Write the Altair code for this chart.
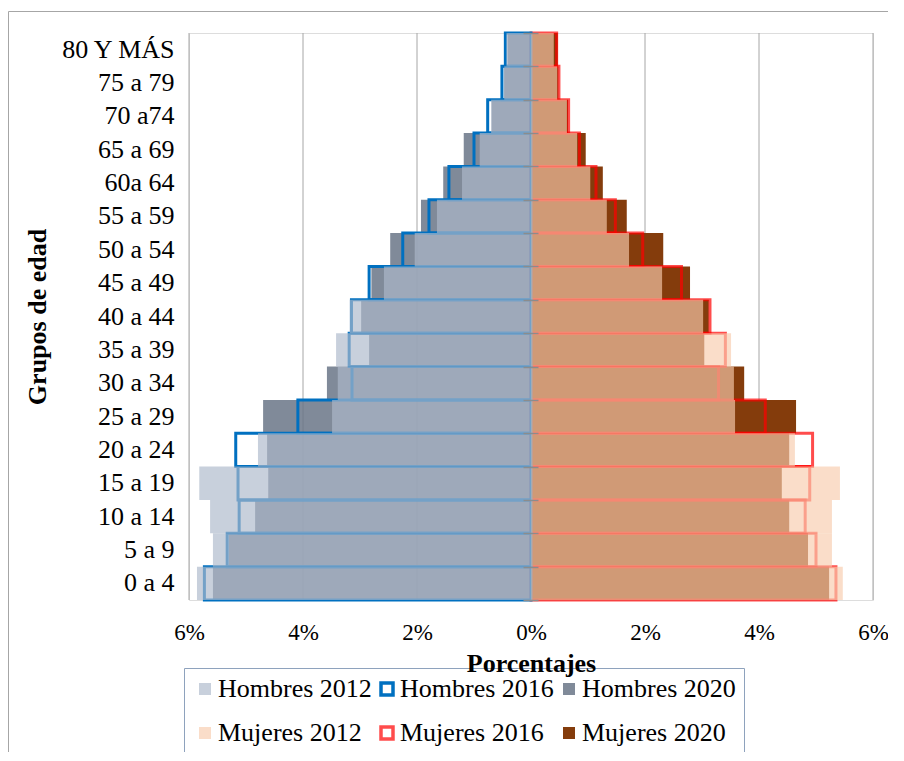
import altair as alt
import pandas as pd

# ---------------- data (percent of population) ----------------
GRUPOS = ["0 a 4", "5 a 9", "10 a 14", "15 a 19", "20 a 24", "25 a 29", "30 a 34",
          "35 a 39", "40 a 44", "45 a 49", "50 a 54", "55 a 59", "60a 64",
          "65 a 69", "70 a74", "75 a 79", "80 Y MÁS"]

HOMBRES_2012 = [5.86, 5.58, 5.63, 5.82, 4.79, 3.49, 3.39, 3.42, 3.18, 2.58, 2.04, 1.65, 1.21, 0.90, 0.70, 0.47, 0.43]
HOMBRES_2016 = [5.73, 5.33, 5.12, 5.14, 5.18, 4.09, 3.14, 3.19, 3.15, 2.84, 2.25, 1.79, 1.44, 1.00, 0.76, 0.51, 0.45]
HOMBRES_2020 = [5.58, 5.30, 4.84, 4.61, 4.63, 4.70, 3.58, 2.84, 2.98, 2.80, 2.47, 1.93, 1.54, 1.18, 0.69, 0.47, 0.41]
MUJERES_2012 = [5.47, 5.28, 5.28, 5.42, 4.63, 3.58, 3.56, 3.51, 3.02, 2.30, 1.72, 1.33, 1.04, 0.81, 0.63, 0.46, 0.40]
MUJERES_2016 = [5.35, 5.00, 4.81, 4.89, 4.94, 4.11, 3.29, 3.41, 3.14, 2.64, 1.96, 1.48, 1.14, 0.85, 0.66, 0.49, 0.45]
MUJERES_2020 = [5.23, 4.86, 4.53, 4.40, 4.53, 4.65, 3.74, 3.04, 3.12, 2.79, 2.32, 1.68, 1.26, 0.96, 0.65, 0.48, 0.47]

SERIES = ["Hombres 2012", "Hombres 2016", "Hombres 2020",
          "Mujeres 2012", "Mujeres 2016", "Mujeres 2020"]
X_TICKS = [-6, -4, -2, 0, 2, 4, 6]
GRID_X = [-6, -4, -2, 2, 4, 6]

# ---------------- styles ----------------
FILL_RANGE = ["rgba(173,185,203,0.67)", "white", "rgba(106,117,135,0.85)",
              "rgba(248,203,173,0.66)", "white", "#843c0c"]
STROKE_RANGE = ["transparent", "#0070c0", "transparent",
                "transparent", "rgba(255,0,0,0.7)", "transparent"]
FONT = "Liberation Serif"
W, H = 684, 567

rows = []
for year, men, women in [(2012, HOMBRES_2012, MUJERES_2012),
                         (2016, HOMBRES_2016, MUJERES_2016),
                         (2020, HOMBRES_2020, MUJERES_2020)]:
    for g, v in zip(GRUPOS, women):
        rows.append({"grupo": g, "valor": v, "anio": year, "serie": f"Mujeres {year}"})
    for g, v in zip(GRUPOS, men):
        rows.append({"grupo": g, "valor": -v, "anio": year, "serie": f"Hombres {year}"})
df = pd.DataFrame(rows)

xscale = alt.Scale(domain=[-6, 6], nice=False, zero=False)
yscale = alt.Scale(paddingInner=0, paddingOuter=0)
ysort = list(reversed(GRUPOS))
fill_scale = alt.Scale(domain=SERIES, range=FILL_RANGE)
stroke_scale = alt.Scale(domain=SERIES, range=STROKE_RANGE)

LEG = dict(title=None, orient="none", legendX=-5, legendY=635, direction="horizontal",
           columns=3, labelFont=FONT, labelFontSize=26, labelColor="black", labelLimit=400,
           labelOffset=0, symbolType="square", symbolSize=144, symbolStrokeWidth=3.5,
           padding=8, rowPadding=18, columnPadding=2, fillColor="white",
           strokeColor="#8ea2bd", zindex=0)

x_axis = alt.Axis(values=X_TICKS, labelExpr="abs(datum.value) + '%'", grid=False,
                  domain=False, ticks=False, tickSize=0, labelPadding=39,
                  labelBaseline="alphabetic", labelFont=FONT, labelFontSize=23,
                  labelColor="black", labelFlush=False, labelOverlap=False,
                  title="Porcentajes", titleFont=FONT, titleFontSize=26,
                  titleFontWeight="bold", titleColor="black", titleX=W / 2, titleY=71,
                  titleBaseline="alphabetic", titleAlign="center", zindex=1)

y_axis = alt.Axis(orient="left", domain=False, ticks=False, tickSize=0, grid=False,
                  labelPadding=15, labelFont=FONT, labelFontSize=26, labelColor="black",
                  labelLimit=400, title="Grupos de edad", titleFont=FONT, titleFontSize=26,
                  titleFontWeight="bold", titleColor="black", titleAngle=270,
                  titleX=-144, titleY=H / 2, titleBaseline="alphabetic", titleAlign="center")

tick_axis = alt.Axis(orient="right", offset=-(W / 2) - 8, labels=False, domain=False,
                     grid=False, ticks=True, tickBand="extent", tickSize=15,
                     tickColor="#8c8c8c", tickWidth=1.5, title=None, zindex=1)

# chart-area frame (decoration)
frame = alt.Chart(alt.Data(values=[{"k": 1}])).mark_rect(
    filled=False, stroke="#a6a6a6", strokeWidth=1
).encode(x=alt.value(-180.5), x2=alt.value(W + 200), y=alt.value(-21.5), y2=alt.value(H + 300))

grid = alt.Chart(pd.DataFrame({"valor": GRID_X})).mark_rule(color="#a6a6a6", strokeWidth=1).encode(
    x=alt.X("valor:Q", scale=xscale, axis=x_axis)
)

base = alt.Chart(df)

bars2020 = base.transform_filter("datum.anio == 2020").mark_bar(strokeWidth=3.5).encode(
    x=alt.X("valor:Q", scale=xscale, axis=x_axis),
    y=alt.Y("grupo:N", sort=ysort, scale=yscale, axis=y_axis),
    fill=alt.Fill("serie:N", scale=fill_scale, legend=alt.Legend(**LEG)),
)

bars2016 = base.transform_filter("datum.anio == 2016").mark_bar().encode(
    x=alt.X("valor:Q", scale=xscale, axis=x_axis),
    y=alt.Y("grupo:N", sort=ysort, scale=yscale, axis=None),
    stroke=alt.Stroke("serie:N", scale=stroke_scale, legend=alt.Legend(**LEG)),
    fill=alt.value("transparent"),
    strokeWidth=alt.value(3),
)

bars2012 = base.transform_filter("datum.anio == 2012").mark_bar().encode(
    x=alt.X("valor:Q", scale=xscale, axis=x_axis),
    y=alt.Y("grupo:N", sort=ysort, scale=yscale, axis=tick_axis),
    fill=alt.Fill("serie:N", scale=fill_scale, legend=alt.Legend(**LEG)),
)

chart = alt.layer(frame, grid, bars2020, bars2016, bars2012).resolve_axis(
    y="independent"
).properties(
    width=W, height=H,
    autosize=alt.AutoSizeParams(type="none"),
    padding={"left": 181, "top": 25, "right": 15, "bottom": 152},
).configure_view(stroke=None).configure(font=FONT)

chart.save("out.html", embed_options={"renderer": "svg", "actions": False})
